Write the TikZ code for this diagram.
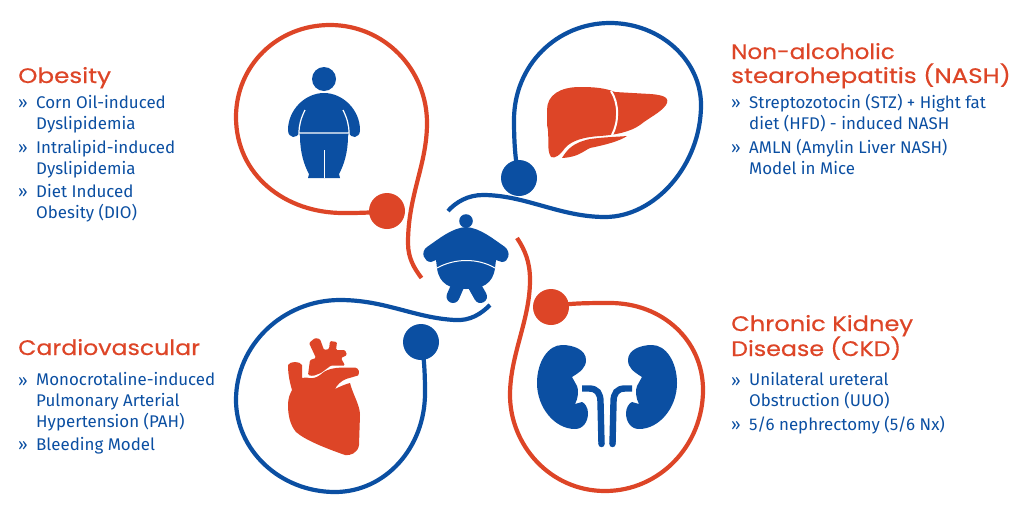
\documentclass[tikz,border=0pt]{standalone}
\usepackage{fontspec}
\setmainfont{Fira Sans}
\newfontfamily\headfont[RawFeature={embolden=0.4}]{Poppins}
\definecolor{myred}{HTML}{DD4527}
\definecolor{myblue}{HTML}{0B4FA2}
\newcommand{\headtext}[2][1.17]{\scalebox{#1}[1]{#2}}
\tikzset{
  loopline/.style={line width=4.2pt,line cap=butt,line join=round},
  dot/.style={circle,minimum size=36pt,inner sep=0pt,fill=#1},
  head/.style={anchor=base west,inner sep=0pt,text=myred,font=\headfont\fontsize{21}{25}\selectfont},
  item/.style={anchor=base west,inner sep=0pt,text=myblue,font=\fontsize{16.9}{21}\selectfont,align=left},
  gap/.style={draw=white,line width=1.2pt,fill=none},
}
\begin{document}
\begin{tikzpicture}[x=1pt,y=-1pt]
\useasboundingbox (0,0) rectangle (1024,517);
% dots
\node[dot=myred]  (obDot) at (387,211) {};
\node[dot=myblue] (liDot) at (519,178) {};
\node[dot=myred]  (kiDot) at (551,307) {};
\node[dot=myblue] (heDot) at (421,342) {};
% free ends
\coordinate (obEnd) at (421.5,278);
\coordinate (liEnd) at (448,211);
\coordinate (kiEnd) at (517,238);
\coordinate (heEnd) at (490,305);
% curves
\draw[loopline,myred] (obDot.center) .. controls (370,213) and (355,213) .. (343,213)
  .. controls (285,213) and (236,175) .. (236,117)
  .. controls (236,66) and (277,25) .. (330,25)
  .. controls (385,25) and (427,70) .. (427,123)
  .. controls (427,165) and (408,195) .. (408,243)
  .. controls (408,258) and (414,268) .. (obEnd);
\draw[loopline,myblue] (liDot.center) .. controls (515,160) and (514,140) .. (514,120)
  .. controls (514,65) and (557,23) .. (610,23)
  .. controls (660,23) and (701,60) .. (701,105)
  .. controls (701,165) and (655,217) .. (605,217)
  .. controls (560,217) and (525,195) .. (483,195)
  .. controls (468,195) and (456,202) .. (liEnd);
\draw[loopline,myred] (kiDot.center) .. controls (565,303) and (590,303) .. (610,303)
  .. controls (662,303) and (703,340) .. (703,390)
  .. controls (703,445) and (660,491) .. (605,491)
  .. controls (550,491) and (510,445) .. (510,395)
  .. controls (510,355) and (530,320) .. (530,280)
  .. controls (530,262) and (525,250) .. (kiEnd);
\draw[loopline,myblue] (heDot.center) .. controls (424,355) and (425,372) .. (425,393)
  .. controls (425,448) and (385,492) .. (335,492)
  .. controls (280,492) and (236,450) .. (236,400)
  .. controls (236,345) and (283,300) .. (340,300)
  .. controls (385,300) and (415,318) .. (455,320)
  .. controls (470,321) and (481,314) .. (heEnd);
% person (obesity)
\fill[myblue] (324,79) circle (12);
\fill[myblue] (324,93) .. controls (305,93) and (288,110) .. (288,130)
  .. controls (288,139) and (298,139) .. (299,132)
  -- (300,136) .. controls (300,152) and (304,165) .. (309,174) -- (308,178) -- (340,178) -- (339,174)
  .. controls (344,165) and (348,152) .. (348,136) -- (349,132)
  .. controls (350,139) and (360,139) .. (360,130)
  .. controls (360,110) and (343,93) .. (324,93) -- cycle;
\draw[gap] (305,110) .. controls (301,118) and (299,125) .. (299,133) -- (349,133) .. controls (349,125) and (347,118) .. (343,110);
\draw[white,line width=0.9pt] (324,150) -- (324,178);
% centre person
\fill[myblue] (466,221) circle (6.8);
\fill[myblue] (466,227) .. controls (452,228) and (440,238) .. (427,247)
  .. controls (420,252) and (424,262) .. (431,262) -- (436,260) -- (437,268)
  .. controls (439,284) and (450,289) .. (466,289)
  .. controls (482,289) and (493,284) .. (495,268) -- (496,260) -- (502,262)
  .. controls (509,262) and (511,252) .. (505,247)
  .. controls (492,238) and (480,228) .. (466,227) -- cycle;
\draw[myblue,line width=13pt,line cap=round] (458,285) -- (453,296.5) (474,285) -- (480.5,296.5);
\draw[gap,line width=1pt] (437,268) .. controls (455,258) and (478,258) .. (495,268);
% liver
\fill[myred] (547,110) .. controls (547,95) and (560,87) .. (580,87)
  .. controls (595,87) and (605,88) .. (615,92) -- (650,94)
  .. controls (665,95) and (670,98) .. (666,105)
  .. controls (660,113) and (650,117) .. (640,125)
  .. controls (630,132) and (615,135) .. (600,136)
  .. controls (585,137) and (572,140) .. (565,148)
  .. controls (560,155) and (555,159) .. (551,157)
  .. controls (546,150) and (550,135) .. (547,125) -- cycle;
\fill[myred] (562,158) .. controls (567,150) and (572,143) .. (590,139) .. controls (605,137) and (615,137) .. (627,136) .. controls (620,141) and (605,145) .. (590,148) .. controls (582,152) and (578,157) .. (562,158) -- cycle;
\draw[gap,line width=2pt] (611,91) .. controls (619,103) and (619,122) .. (612,135);
% kidneys
\foreach \s/\o in {1/0,-1/1214}{
  \begin{scope}[xshift=\o pt,xscale=\s]
  \fill[myblue] (572,377) .. controls (580,372) and (586,368) .. (586,360)
    .. controls (586,350) and (574,345) .. (562,345)
    .. controls (548,345) and (537,362) .. (537,383)
    .. controls (537,408) and (555,429) .. (575,429)
    .. controls (583,429) and (588,422) .. (588,413)
    .. controls (588,408) and (585,403) .. (582,402) -- (575,404)
    .. controls (578,399) and (579,390) .. (577,386) -- cycle;
  \draw[myblue,line width=6.4pt] (582,388.5) -- (589,388.5) .. controls (597,388.5) and (600.5,393) .. (600.5,402) -- (601.5,444);
  \fill[myblue] (601.5,444) circle (3.2);
  \end{scope}
}
% heart
\fill[myred] (288,365) .. controls (290,361) and (300,361) .. (302,365) -- (302,378)
  -- (306,377.5) .. controls (312,379) and (316,378) .. (320,375)
  .. controls (325,370) and (332,367.5) .. (345,367.5) -- (355,367.5)
  .. controls (359,368) and (360,373) .. (358,375.5) -- (346,379)
  .. controls (341,381) and (337,385) .. (335,389)
  .. controls (341,386) and (346,384) .. (350,383)
  .. controls (353,395) and (360,405) .. (360,415) -- (359,445) .. controls (358,453) and (350,456) .. (345,455)
  .. controls (325,448) and (305,440) .. (296,432) .. controls (290,425) and (288,415) .. (288,405)
  .. controls (288,398) and (290,394) .. (292,390) .. controls (289,380) and (288,372) .. (288,365) -- cycle;
\fill[myred,rounded corners=1.2pt] (308,375) -- (310,360) -- (316,358) -- (309,343) -- (315,338) -- (320,339) -- (324,350) -- (329,349) -- (330,341) -- (337,342) -- (336,350) -- (345,350) -- (347,355) -- (341,358) -- (345,365.5) -- (331,365.5) -- (321,373) -- (313,376) -- cycle;
% heading and list text
\node[head] (h1) at (18,83) {\headtext{Obesity}};
\node[head] (h2a) at (731,59) {\headtext[1.10]{Non-alcoholic}};
\node[head] (h2b) at (731,83) {\headtext{stearohepatitis (NASH)}};
\node[head] (h3) at (18,355) {\headtext[1.127]{Cardiovascular}};
\node[head] (h4a) at (731,331) {\headtext[1.15]{Chronic Kidney}};
\node[head] (h4b) at (731,356) {\headtext[1.13]{Disease (CKD)}};
\node[item] (b1) at (18,108) {»};  \node[item] (t1) at (36,129) {Corn Oil-induced\\Dyslipidemia};
\node[item] (b2) at (18,153) {»};  \node[item] (t2) at (36,174) {Intralipid-induced\\Dyslipidemia};
\node[item] (b3) at (18,197) {»};  \node[item] (t3) at (36,218) {Diet Induced\\Obesity (DIO)};
\node[item] (b4) at (731,108) {»}; \node[item] (t4) at (749,129) {Streptozotocin (STZ) + Hight fat\\diet (HFD) - induced NASH};
\node[item] (b5) at (731,153) {»}; \node[item] (t5) at (749,174) {AMLN (Amylin Liver NASH)\\Model in Mice};
\node[item] (b6) at (18,386) {»};  \node[item] (t6) at (36,427) {Monocrotaline-induced\\Pulmonary Arterial\\Hypertension (PAH)};
\node[item] (b7) at (18,450) {»};  \node[item] (t7) at (36,450) {Bleeding Model};
\node[item] (b8) at (731,386) {»}; \node[item] (t8) at (749,406) {Unilateral ureteral\\Obstruction (UUO)};
\node[item] (b9) at (731,430) {»}; \node[item] (t9) at (749,430) {5/6 nephrectomy (5/6 Nx)};
\end{tikzpicture}
\end{document}
